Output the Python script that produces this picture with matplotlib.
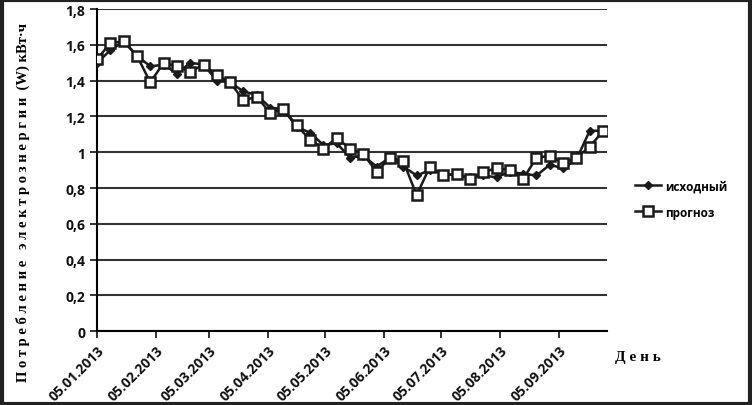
import matplotlib
matplotlib.use("Agg")
import matplotlib.pyplot as plt
import matplotlib.dates as mdates
from matplotlib.ticker import FuncFormatter
from matplotlib.patches import Rectangle
import pandas as pd

# weekly data starting 05.01.2013
dates = pd.date_range("2013-01-05", periods=39, freq="7D")
iskhodny = [1.50, 1.57, 1.62, 1.54, 1.48, 1.49, 1.44, 1.50, 1.49, 1.40,
            1.39, 1.34, 1.32, 1.25, 1.24, 1.14, 1.11, 1.04, 1.05, 0.97,
            0.98, 0.92, 0.97, 0.92, 0.87, 0.90, 0.88, 0.87, 0.86, 0.87,
            0.86, 0.89, 0.88, 0.87, 0.93, 0.91, 0.96, 1.12, 1.12]
prognoz = [1.52, 1.61, 1.62, 1.54, 1.39, 1.50, 1.48, 1.45, 1.49, 1.43,
           1.39, 1.29, 1.31, 1.22, 1.24, 1.15, 1.07, 1.02, 1.08, 1.02,
           0.99, 0.89, 0.97, 0.95, 0.76, 0.92, 0.87, 0.88, 0.85, 0.89,
           0.91, 0.90, 0.85, 0.97, 0.98, 0.94, 0.97, 1.03, 1.12]
tick_dates = pd.date_range("2013-01-05", periods=9, freq=pd.DateOffset(months=1))
y_ticks = [0, 0.2, 0.4, 0.6, 0.8, 1.0, 1.2, 1.4, 1.6, 1.8]

fig = plt.figure(figsize=(7.52, 4.06), dpi=100, facecolor="white")
ax = fig.add_axes([0.129, 0.182, 0.678, 0.793])

ax.plot(dates, iskhodny, color="#1a1a1a", lw=1.8, marker="D", ms=4.5,
        mfc="#1a1a1a", mec="#1a1a1a", label="исходный", zorder=3)
ax.plot(dates, prognoz, color="#1a1a1a", lw=1.8, marker="s", ms=7,
        mfc="white", mec="#1a1a1a", mew=1.8, label="прогноз", zorder=4)

ax.set_ylim(0, 1.8)
ax.set_yticks(y_ticks)
ax.yaxis.set_major_formatter(FuncFormatter(
    lambda v, p: ("%g" % round(v, 1)).replace(".", ",")))
ax.set_xlim(pd.Timestamp("2013-01-05"), pd.Timestamp("2013-09-30"))
ax.set_xticks(tick_dates)
ax.xaxis.set_major_formatter(mdates.DateFormatter("%d.%m.%Y"))
plt.setp(ax.get_xticklabels(), rotation=45, ha="right", rotation_mode="anchor")

ax.grid(axis="y", color="#333333", lw=1.5)
ax.set_axisbelow(True)
for s in ["top", "right"]:
    ax.spines[s].set_visible(False)
ax.spines["left"].set_linewidth(1.5)
ax.spines["bottom"].set_linewidth(1.5)
ax.tick_params(axis="both", direction="out", length=5, width=1.2,
               labelsize=10, colors="#111111")
for lab in ax.get_xticklabels() + ax.get_yticklabels():
    lab.set_fontfamily("Open Sans")
    lab.set_fontweight("bold")

fig.text(0.03, 0.5,
         "П о т р е б л е н и е   э л е к т р о з н е р г и и  (W) кВт·ч",
         rotation=90, ha="center", va="center", family="Liberation Serif",
         fontweight="bold", fontsize=10.5)
fig.text(0.818, 0.11, "Д е н ь", family="Liberation Serif", fontweight="bold",
         fontsize=11)

leg = ax.legend(loc="center left", bbox_to_anchor=(1.035, 0.41), frameon=False,
                prop={"family": "Open Sans", "weight": "bold", "size": 8.5},
                handlelength=2.2, handletextpad=0.3, labelspacing=1.1)

fig.patches.append(Rectangle((0.002, 0.003), 0.996, 0.994, transform=fig.transFigure,
                             fill=False, edgecolor="#222222", lw=3))

fig.savefig("out.png", dpi=100)
